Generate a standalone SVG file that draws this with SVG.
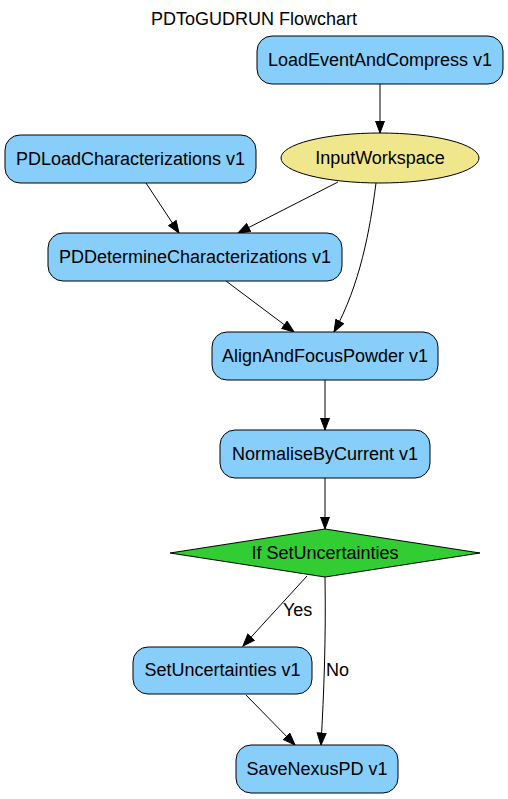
<svg xmlns="http://www.w3.org/2000/svg" width="508" height="799" viewBox="0 0 508 799">
<style>
.box{fill:#87CEFA;stroke:#000;stroke-width:1}
.ell{fill:#F0E68C;stroke:#000;stroke-width:1}
.dia{fill:#32CD32;stroke:#000;stroke-width:1}
text{font-family:"Liberation Sans",Arial,sans-serif;font-size:18px;fill:#000}
.lbl{text-anchor:middle}
.edge{fill:none;stroke:#000;stroke-width:1;marker-end:url(#ah)}
</style>
<defs>
<marker id="ah" markerUnits="userSpaceOnUse" markerWidth="14" markerHeight="12" refX="12.5" refY="5" orient="auto">
<path d="M0.5,0.5 L12.5,5 L0.5,9.5 z" fill="#000" stroke="#000" stroke-width="1"/>
</marker>
</defs>
<rect width="508" height="799" fill="#fff"/>
<text x="254" y="25" class="lbl">PDToGUDRUN Flowchart</text>
<g id="connectors">
<path class="edge" d="M380,84 L380,133"/>
<path class="edge" d="M146,183 L179,233"/>
<path class="edge" d="M338,182 L238,233"/>
<path class="edge" d="M376,183 C370,230 360,285 334,332"/>
<path class="edge" d="M226,281 L294,332"/>
<path class="edge" d="M325,380 L325,430"/>
<path class="edge" d="M325,478 L325,529"/>
<path class="edge" d="M307,576 L243,646"/>
<path class="edge" d="M325,577 C326,640 324,690 321,745"/>
<path class="edge" d="M246,695 L295,745"/>
<text x="283" y="616">Yes</text>
<text x="326" y="676">No</text>
</g>
<g id="LoadEventAndCompress">
<rect class="box" x="257" y="36" width="246" height="48" rx="15" ry="15"/>
<text x="380" y="66" class="lbl">LoadEventAndCompress v1</text>
</g>
<g id="InputWorkspace">
<ellipse class="ell" cx="380" cy="158" rx="99" ry="25"/>
<text x="380" y="164" class="lbl">InputWorkspace</text>
</g>
<g id="PDLoadCharacterizations">
<rect class="box" x="5" y="135" width="251" height="48" rx="15" ry="15"/>
<text x="130.5" y="165" class="lbl">PDLoadCharacterizations v1</text>
</g>
<g id="PDDetermineCharacterizations">
<rect class="box" x="48" y="233" width="294" height="48" rx="15" ry="15"/>
<text x="195" y="263" class="lbl">PDDetermineCharacterizations v1</text>
</g>
<g id="AlignAndFocusPowder">
<rect class="box" x="212" y="332" width="226" height="48" rx="15" ry="15"/>
<text x="325" y="362" class="lbl">AlignAndFocusPowder v1</text>
</g>
<g id="NormaliseByCurrent">
<rect class="box" x="220" y="430" width="210" height="48" rx="15" ry="15"/>
<text x="325" y="460" class="lbl">NormaliseByCurrent v1</text>
</g>
<g id="IfSetUncertainties">
<polygon class="dia" points="325,529 480,553 325,577 170,553"/>
<text x="325" y="559" class="lbl">If SetUncertainties</text>
</g>
<g id="SetUncertainties">
<rect class="box" x="133" y="647" width="179" height="47" rx="15" ry="15"/>
<text x="222.5" y="676" class="lbl">SetUncertainties v1</text>
</g>
<g id="SaveNexusPD">
<rect class="box" x="236" y="745" width="162" height="48" rx="15" ry="15"/>
<text x="317" y="775" class="lbl">SaveNexusPD v1</text>
</g>
</svg>
